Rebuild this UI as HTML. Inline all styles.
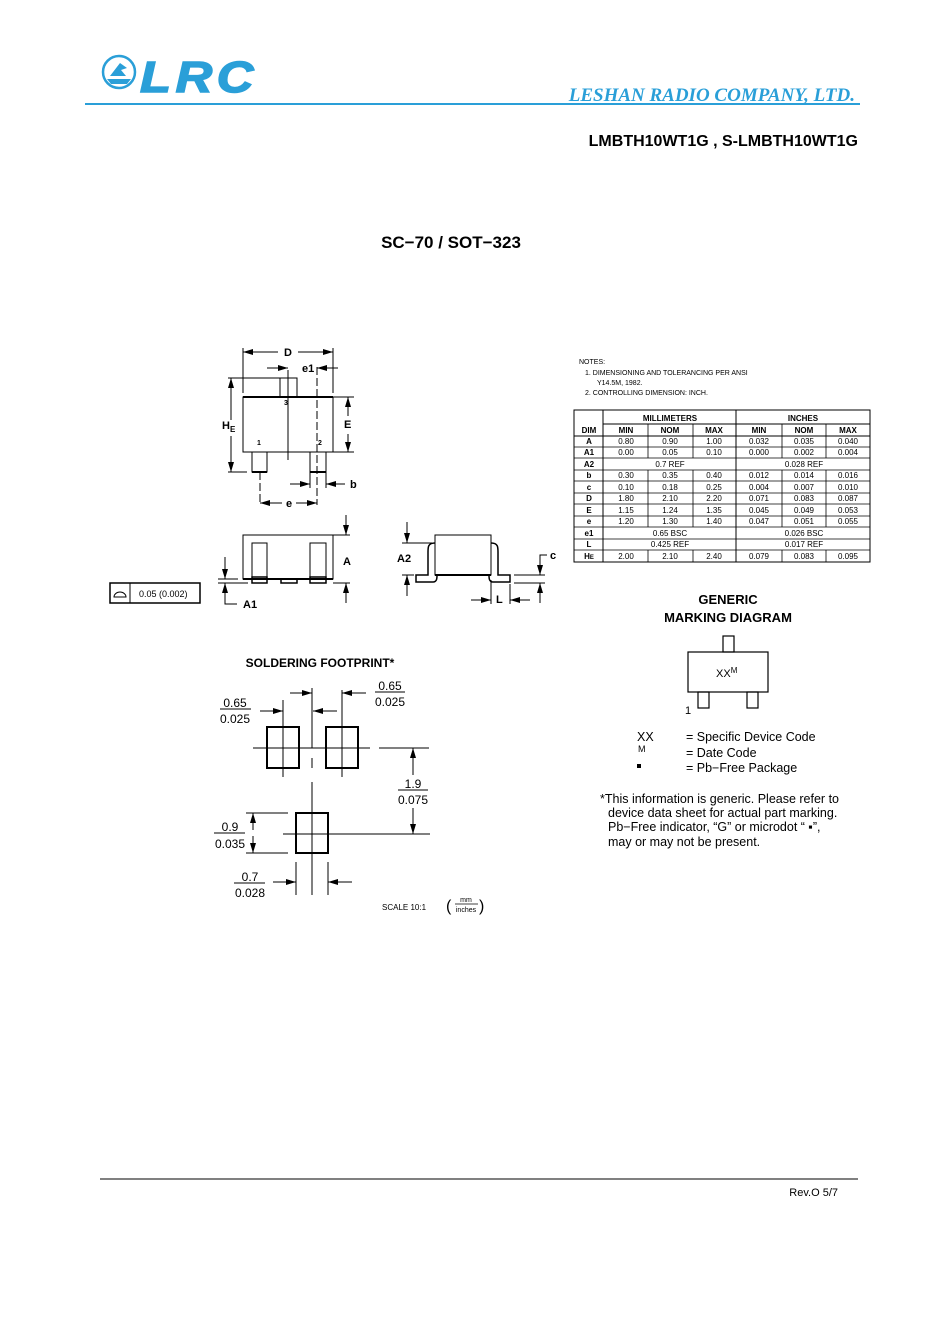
<!DOCTYPE html>
<html><head><meta charset="utf-8"><style>
html,body{margin:0;padding:0;background:#fff;}
svg{display:block;}
text{font-family:"Liberation Sans",Arial,sans-serif;fill:#000;}
</style></head><body>
<svg width="948" height="1341" viewBox="0 0 948 1341" xmlns="http://www.w3.org/2000/svg">
<defs>
<marker id="ar" markerWidth="10" markerHeight="6" refX="10" refY="3" orient="auto" markerUnits="userSpaceOnUse"><path d="M0,0 L10,3 L0,6 Z" fill="#000"/></marker>
</defs>
<!-- header -->
<circle cx="119" cy="72" r="16" fill="none" stroke="#2a9fd8" stroke-width="2.5"/>
<path d="M107,79 L131,79 L127,84 L111,84 Z M110,76 L120,63 L127,68 L121,70 L126,76 Z" fill="#2a9fd8"/>
<text x="140" y="92" font-size="44" font-weight="bold" font-style="italic" style="fill:#2a9fd8;stroke:#2a9fd8;stroke-width:1.5;letter-spacing:4px" textLength="118" lengthAdjust="spacingAndGlyphs">LRC</text>
<line x1="85" y1="104" x2="860" y2="104" stroke="#2a9fd8" stroke-width="2"/>
<text x="855" y="101" text-anchor="end" font-size="19" font-weight="bold" font-style="italic" style="font-family:'Liberation Serif',serif;fill:#2a9fd8">LESHAN RADIO COMPANY, LTD.</text>
<text x="858" y="146" text-anchor="end" font-size="16" font-weight="bold">LMBTH10WT1G , S-LMBTH10WT1G</text>
<text x="451" y="248" text-anchor="middle" font-size="17" font-weight="bold">SC−70 / SOT−323</text>

<g stroke="#000" fill="none" stroke-width="1">
<!-- top view -->
<line x1="243" y1="348" x2="243" y2="393"/><line x1="333" y1="348" x2="333" y2="393"/>
<line x1="278" y1="352" x2="243" y2="352" marker-end="url(#ar)"/><line x1="298" y1="352" x2="333" y2="352" marker-end="url(#ar)"/>
<rect x="243" y="397" width="90" height="55"/>
<line x1="243" y1="397" x2="333" y2="397" stroke-width="2"/>
<rect x="280" y="378" width="17" height="19"/>
<rect x="252" y="452" width="15" height="20"/><rect x="310" y="452" width="16" height="20"/>
<line x1="252" y1="472" x2="267" y2="472" stroke-width="2"/><line x1="310" y1="472" x2="326" y2="472" stroke-width="2"/>
<line x1="288" y1="370" x2="288" y2="460"/>
<line x1="317" y1="367" x2="317" y2="505" stroke-dasharray="8,3"/>
<line x1="260" y1="472" x2="260" y2="505" stroke-dasharray="8,3"/>
<line x1="267" y1="368" x2="288" y2="368" marker-end="url(#ar)"/><line x1="338" y1="368" x2="317" y2="368" marker-end="url(#ar)"/>
<line x1="228" y1="378" x2="280" y2="378"/><line x1="228" y1="472" x2="247" y2="472"/>
<line x1="231" y1="420" x2="231" y2="378" marker-end="url(#ar)"/><line x1="231" y1="436" x2="231" y2="472" marker-end="url(#ar)"/>
<line x1="333" y1="397" x2="354" y2="397"/><line x1="333" y1="452" x2="354" y2="452"/>
<line x1="348" y1="416" x2="348" y2="397" marker-end="url(#ar)"/><line x1="348" y1="434" x2="348" y2="452" marker-end="url(#ar)"/>
<line x1="310" y1="472" x2="310" y2="488"/><line x1="326" y1="472" x2="326" y2="488"/>
<line x1="290" y1="484" x2="310" y2="484" marker-end="url(#ar)"/><line x1="345" y1="484" x2="326" y2="484" marker-end="url(#ar)"/>
<line x1="282" y1="503" x2="260" y2="503" marker-end="url(#ar)"/><line x1="296" y1="503" x2="317" y2="503" marker-end="url(#ar)"/>
<!-- side view -->
<rect x="243" y="535" width="90" height="44"/>
<line x1="243" y1="579" x2="333" y2="579" stroke-width="2"/>
<rect x="252" y="543" width="15" height="40"/><rect x="310" y="543" width="16" height="40"/>
<rect x="252" y="577" width="15" height="6" stroke-width="1.5"/><rect x="310" y="577" width="16" height="6" stroke-width="1.5"/>
<rect x="281" y="579" width="16" height="4" stroke-width="1.5"/>
<line x1="333" y1="535" x2="350" y2="535"/><line x1="333" y1="583" x2="350" y2="583"/>
<line x1="346" y1="515" x2="346" y2="535" marker-end="url(#ar)"/><line x1="346" y1="603" x2="346" y2="583" marker-end="url(#ar)"/>
<line x1="218" y1="579" x2="238" y2="579"/><line x1="218" y1="583" x2="248" y2="583"/>
<line x1="225" y1="557" x2="225" y2="579" marker-end="url(#ar)"/><polyline points="237,604 225,604 225,583" marker-end="url(#ar)"/>
<rect x="110" y="583" width="90" height="20" stroke-width="1.5"/><line x1="130" y1="583" x2="130" y2="603"/>
<path d="M114,597 L126,597 A6,5 0 0 0 114,597 Z"/>
<!-- right side view -->
<rect x="435" y="535" width="56" height="40"/>
<line x1="435" y1="575" x2="491" y2="575" stroke-width="2"/>
<path d="M435,543 C428,543 428,547 428,552 L428,575 L416,575 L416,582 L433,582 C437,582 437,578 437,575" stroke-width="1.5"/>
<path d="M491,543 C498,543 498,547 498,552 L498,575 L510,575 L510,582 L493,582 C489,582 489,578 489,575" stroke-width="1.5"/>
<line x1="402" y1="543" x2="432" y2="543"/><line x1="402" y1="575" x2="414" y2="575"/>
<line x1="407" y1="522" x2="407" y2="543" marker-end="url(#ar)"/><line x1="407" y1="596" x2="407" y2="575" marker-end="url(#ar)"/>
<line x1="514" y1="575" x2="545" y2="575"/><line x1="514" y1="583" x2="545" y2="583"/>
<polyline points="547,555 540,555 540,575" marker-end="url(#ar)"/><line x1="540" y1="603" x2="540" y2="583" marker-end="url(#ar)"/>
<line x1="491" y1="580" x2="491" y2="604"/><line x1="510" y1="584" x2="510" y2="604"/>
<line x1="471" y1="600" x2="491" y2="600" marker-end="url(#ar)"/><line x1="530" y1="600" x2="510" y2="600" marker-end="url(#ar)"/>
</g>
<g font-weight="bold" font-size="11">
<text x="288" y="356" text-anchor="middle">D</text>
<text x="302" y="372">e1</text>
<text x="222" y="429" font-size="11">H<tspan font-size="8" dy="3">E</tspan></text>
<text x="344" y="428">E</text>
<text x="350" y="488">b</text>
<text x="289" y="507" text-anchor="middle">e</text>
<text x="284" y="405" font-size="7">3</text><text x="257" y="445" font-size="7">1</text><text x="318" y="445" font-size="7">2</text>
<text x="343" y="565">A</text>
<text x="243" y="608">A1</text>
<text x="397" y="562">A2</text>
<text x="550" y="559">c</text>
<text x="496" y="603">L</text>
</g>
<text x="139" y="597" font-size="9">0.05 (0.002)</text>

<!-- notes -->
<g font-size="7">
<text x="579" y="364">NOTES:</text>
<text x="585" y="375">1.  DIMENSIONING AND TOLERANCING PER ANSI</text>
<text x="597" y="385">Y14.5M, 1982.</text>
<text x="585" y="395">2.  CONTROLLING DIMENSION: INCH.</text>
</g>
<!-- table -->
<g stroke="#000" stroke-width="1" fill="none">
<rect x="574" y="410" width="296" height="152"/>
<line x1="603" y1="410" x2="603" y2="562"/>
<line x1="736" y1="410" x2="736" y2="562"/>
<line x1="603" y1="424" x2="870" y2="424"/>
<line x1="574" y1="436" x2="870" y2="436"/>
</g>
<g font-size="8" text-anchor="middle">
<text x="670" y="421" font-weight="bold">MILLIMETERS</text><text x="803" y="421" font-weight="bold">INCHES</text>
<text x="589" y="433" font-weight="bold">DIM</text>
<text x="626" y="433" font-weight="bold">MIN</text><text x="670" y="433" font-weight="bold">NOM</text><text x="714" y="433" font-weight="bold">MAX</text>
<text x="759" y="433" font-weight="bold">MIN</text><text x="804" y="433" font-weight="bold">NOM</text><text x="848" y="433" font-weight="bold">MAX</text>
</g>
<g font-size="8" text-anchor="middle">
<g stroke="#000" stroke-width="0.8">
<line x1="574" y1="447" x2="870" y2="447"/><line x1="574" y1="458" x2="870" y2="458"/><line x1="574" y1="470" x2="870" y2="470"/>
<line x1="574" y1="481" x2="870" y2="481"/><line x1="574" y1="493" x2="870" y2="493"/><line x1="574" y1="504" x2="870" y2="504"/>
<line x1="574" y1="516" x2="870" y2="516"/><line x1="574" y1="527" x2="870" y2="527"/><line x1="574" y1="539" x2="870" y2="539"/>
<line x1="574" y1="550" x2="870" y2="550"/>
<line x1="648" y1="424" x2="648" y2="458"/><line x1="693" y1="424" x2="693" y2="458"/><line x1="782" y1="424" x2="782" y2="458"/><line x1="826" y1="424" x2="826" y2="458"/>
<line x1="648" y1="470" x2="648" y2="527"/><line x1="693" y1="470" x2="693" y2="527"/><line x1="782" y1="470" x2="782" y2="527"/><line x1="826" y1="470" x2="826" y2="527"/>
<line x1="648" y1="550" x2="648" y2="562"/><line x1="693" y1="550" x2="693" y2="562"/><line x1="782" y1="550" x2="782" y2="562"/><line x1="826" y1="550" x2="826" y2="562"/>
</g>
<g font-weight="bold"><text x="589" y="444">A</text><text x="589" y="455">A1</text><text x="589" y="467">A2</text><text x="589" y="478">b</text><text x="589" y="490">c</text><text x="589" y="501">D</text><text x="589" y="513">E</text><text x="589" y="524">e</text><text x="589" y="536">e1</text><text x="589" y="547">L</text><text x="589" y="559">H<tspan font-size="6">E</tspan></text></g>
<text x="626" y="444">0.80</text><text x="670" y="444">0.90</text><text x="714" y="444">1.00</text><text x="759" y="444">0.032</text><text x="804" y="444">0.035</text><text x="848" y="444">0.040</text>
<text x="626" y="455">0.00</text><text x="670" y="455">0.05</text><text x="714" y="455">0.10</text><text x="759" y="455">0.000</text><text x="804" y="455">0.002</text><text x="848" y="455">0.004</text>
<text x="670" y="467">0.7 REF</text><text x="804" y="467">0.028 REF</text>
<text x="626" y="478">0.30</text><text x="670" y="478">0.35</text><text x="714" y="478">0.40</text><text x="759" y="478">0.012</text><text x="804" y="478">0.014</text><text x="848" y="478">0.016</text>
<text x="626" y="490">0.10</text><text x="670" y="490">0.18</text><text x="714" y="490">0.25</text><text x="759" y="490">0.004</text><text x="804" y="490">0.007</text><text x="848" y="490">0.010</text>
<text x="626" y="501">1.80</text><text x="670" y="501">2.10</text><text x="714" y="501">2.20</text><text x="759" y="501">0.071</text><text x="804" y="501">0.083</text><text x="848" y="501">0.087</text>
<text x="626" y="513">1.15</text><text x="670" y="513">1.24</text><text x="714" y="513">1.35</text><text x="759" y="513">0.045</text><text x="804" y="513">0.049</text><text x="848" y="513">0.053</text>
<text x="626" y="524">1.20</text><text x="670" y="524">1.30</text><text x="714" y="524">1.40</text><text x="759" y="524">0.047</text><text x="804" y="524">0.051</text><text x="848" y="524">0.055</text>
<text x="670" y="536">0.65 BSC</text><text x="804" y="536">0.026 BSC</text>
<text x="670" y="547">0.425 REF</text><text x="804" y="547">0.017 REF</text>
<text x="626" y="559">2.00</text><text x="670" y="559">2.10</text><text x="714" y="559">2.40</text><text x="759" y="559">0.079</text><text x="804" y="559">0.083</text><text x="848" y="559">0.095</text>
</g>

<!-- marking diagram -->
<text x="728" y="604" text-anchor="middle" font-size="13" font-weight="bold">GENERIC</text>
<text x="728" y="622" text-anchor="middle" font-size="13" font-weight="bold">MARKING DIAGRAM</text>
<g stroke="#000" fill="none" stroke-width="1.2">
<rect x="688" y="652" width="80" height="40"/><rect x="723" y="636" width="11" height="16"/>
<rect x="698" y="692" width="11" height="16"/><rect x="747" y="692" width="11" height="16"/>
</g>
<text x="716" y="677" font-size="11">XX<tspan font-size="8" dy="-4">M</tspan></text>
<text x="685" y="714" font-size="11">1</text>
<g font-size="12.5">
<text x="637" y="741">XX</text><text x="638" y="752" font-size="9">M</text><rect x="637" y="764" width="4" height="4"/>
<text x="686" y="741">= Specific Device Code</text>
<text x="686" y="757">= Date Code</text>
<text x="686" y="772">= Pb−Free Package</text>
<text x="600" y="803">*This information is generic. Please refer to</text>
<text x="608" y="817">device data sheet for actual part marking.</text>
<text x="608" y="831">Pb−Free indicator, “G” or microdot “ ▪”,</text>
<text x="608" y="846">may or may not be present.</text>
</g>

<!-- soldering footprint -->
<text x="320" y="667" text-anchor="middle" font-size="12" font-weight="bold">SOLDERING FOOTPRINT*</text>
<g stroke="#000" fill="none" stroke-width="1">
<rect x="267" y="727" width="32" height="41" stroke-width="2"/><rect x="326" y="727" width="32" height="41" stroke-width="2"/>
<rect x="296" y="813" width="32" height="40" stroke-width="2"/>
<line x1="283" y1="700" x2="283" y2="777"/><line x1="342" y1="690" x2="342" y2="777"/>
<line x1="312" y1="688" x2="312" y2="748"/><line x1="312" y1="758" x2="312" y2="768"/><line x1="312" y1="782" x2="312" y2="895"/>
<line x1="253" y1="748" x2="370" y2="748"/><line x1="379" y1="748" x2="429" y2="748"/>
<line x1="283" y1="834" x2="430" y2="834"/>
<line x1="260" y1="711" x2="283" y2="711" marker-end="url(#ar)"/><line x1="337" y1="711" x2="313" y2="711" marker-end="url(#ar)"/>
<line x1="290" y1="693" x2="312" y2="693" marker-end="url(#ar)"/><line x1="366" y1="693" x2="342" y2="693" marker-end="url(#ar)"/>
<line x1="413" y1="775" x2="413" y2="748" marker-end="url(#ar)"/><line x1="413" y1="808" x2="413" y2="834" marker-end="url(#ar)"/>
<line x1="246" y1="813" x2="288" y2="813"/><line x1="246" y1="853" x2="288" y2="853"/>
<line x1="253" y1="830" x2="253" y2="813" marker-end="url(#ar)"/><line x1="253" y1="836" x2="253" y2="853" marker-end="url(#ar)"/>
<line x1="296" y1="862" x2="296" y2="895"/><line x1="328" y1="862" x2="328" y2="895"/>
<line x1="273" y1="882" x2="296" y2="882" marker-end="url(#ar)"/><line x1="352" y1="882" x2="328" y2="882" marker-end="url(#ar)"/>
<line x1="220" y1="709" x2="251" y2="709"/><line x1="375" y1="692" x2="405" y2="692"/>
<line x1="398" y1="790" x2="428" y2="790"/><line x1="214" y1="833" x2="245" y2="833"/><line x1="234" y1="883" x2="265" y2="883"/>
</g>
<g font-size="12" text-anchor="middle">
<text x="235" y="707">0.65</text><text x="235" y="723">0.025</text>
<text x="390" y="690">0.65</text><text x="390" y="706">0.025</text>
<text x="413" y="788">1.9</text><text x="413" y="804">0.075</text>
<text x="230" y="831">0.9</text><text x="230" y="848">0.035</text>
<text x="250" y="881">0.7</text><text x="250" y="897">0.028</text>
</g>
<text x="382" y="910" font-size="8">SCALE 10:1</text>
<text x="466" y="902" font-size="7" text-anchor="middle">mm</text>
<line x1="455" y1="904" x2="478" y2="904" stroke="#000" stroke-width="0.7"/>
<text x="466" y="912" font-size="7" text-anchor="middle">inches</text>
<text x="446" y="911" font-size="16">(</text><text x="479" y="911" font-size="16">)</text>

<!-- footer -->
<line x1="100" y1="1179" x2="858" y2="1179" stroke="#000" stroke-width="1"/>
<text x="838" y="1196" text-anchor="end" font-size="11">Rev.O  5/7</text>
</svg>
</body></html>
